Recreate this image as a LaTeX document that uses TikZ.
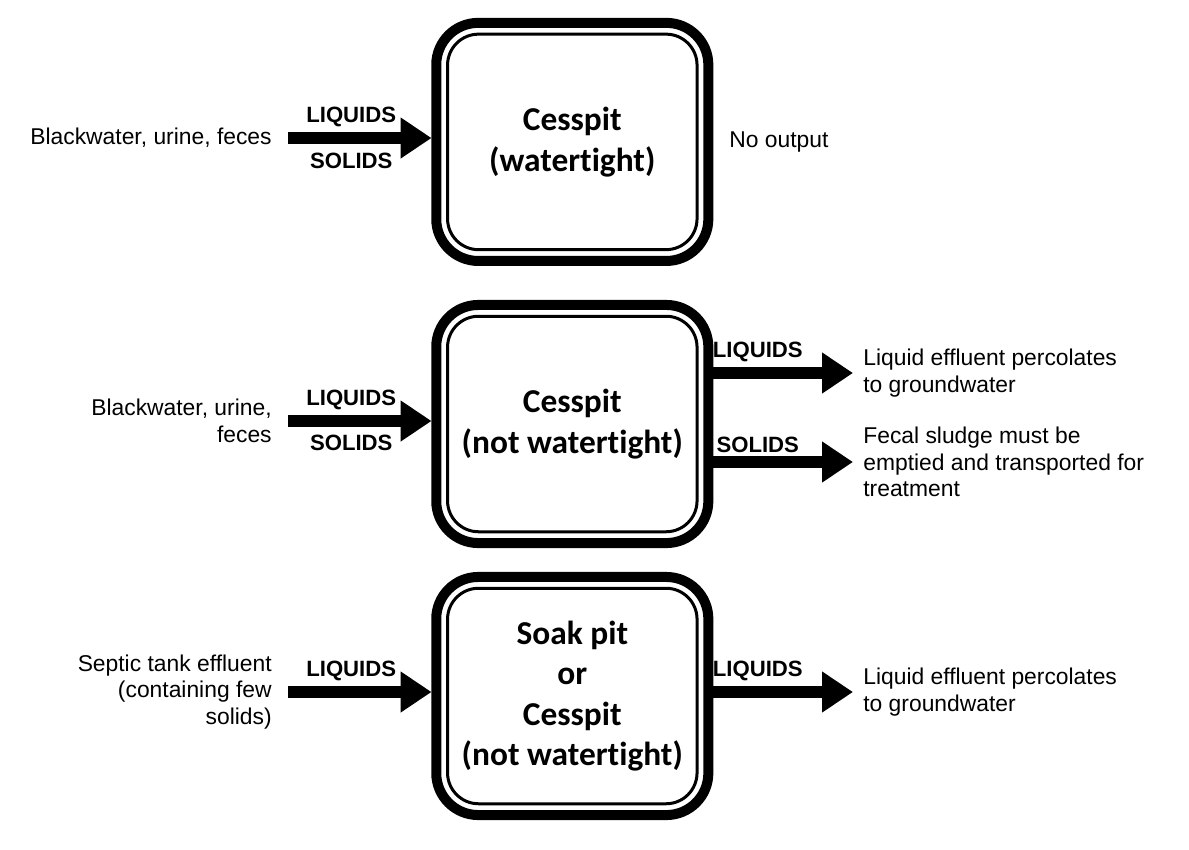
\documentclass[tikz,border=0pt]{standalone}
\usepackage{fontspec}
\setmainfont{Liberation Sans}
\newfontfamily\pitfont[Ligatures=NoCommon]{Carlito}
\usetikzlibrary{arrows.meta}

\begin{document}
\begin{tikzpicture}[x=0.2mm,y=-0.2mm,line cap=round,
  flow/.style={line width=2.4mm,line cap=butt,-{Triangle[length=6.2mm,width=7.8mm]}},
  pit/.style={draw,line width=0.6mm,rounded corners=6.2mm,minimum width=49.9mm,minimum height=43.1mm,
    inner sep=0pt,align=center,font=\pitfont\bfseries\fontsize{19}{23}\selectfont},
  rim/.style={line width=2mm,rounded corners=8.4mm},
  side/.style={inner sep=0pt,font=\fontsize{13}{15}\selectfont},
  tag/.style={inner sep=0pt,font=\bfseries\fontsize{12.6}{15}\selectfont}]
\useasboundingbox (0,0) rectangle (1189,849);

\node[pit] (pit1) at (572.3,141.9) {Cesspit\\(watertight)};
\node[pit] (pit2) at (572.3,424) {Cesspit\\(not watertight)};
\node[pit] (pit3) at (572.3,696) {Soak pit\\or\\Cesspit\\(not watertight)};
\foreach \p in {pit1,pit2,pit3}
  \draw[rim] ([shift={(-9.8,-9.8)}]\p.north west) rectangle ([shift={(9.8,9.8)}]\p.south east);

\node[side,anchor=east,align=right] (src1) at (272,138) {Blackwater, urine, feces};
\node[side,anchor=east,align=right] (src2) at (272,421) {Blackwater, urine,\\feces};
\node[side,anchor=east,align=right] (src3) at (272,692) {Septic tank effluent\\(containing few\\solids)};
\node[side,anchor=west] (none1) at (729,142) {No output};
\node[side,anchor=west,align=left] (perc2) at (863,373) {Liquid effluent percolates\\to groundwater};
\node[side,anchor=west,align=left] (sludge2) at (863,462) {Fecal sludge must be\\emptied and transported for\\treatment};
\node[side,anchor=west,align=left] (perc3) at (863,692) {Liquid effluent percolates\\to groundwater};

\draw[flow,shorten >=2.9mm] ([xshift=3.2mm]src1.east) -- (src1.east -| pit1.west)
  node[tag,pos=0.4,yshift=12pt] {LIQUIDS} node[tag,pos=0.4,yshift=-13pt] {SOLIDS};
\draw[flow,shorten >=2.9mm] ([xshift=3.2mm]src2.east) -- (src2.east -| pit2.west)
  node[tag,pos=0.4,yshift=12pt] {LIQUIDS} node[tag,pos=0.4,yshift=-12.5pt] {SOLIDS};
\draw[flow,shorten >=2.9mm] ([xshift=3.2mm]src3.east) -- (src3.east -| pit3.west)
  node[tag,pos=0.4,yshift=12pt] {LIQUIDS};
\draw[flow,shorten <=2.9mm,shorten >=2mm] (perc2.west -| pit2.east) -- (perc2.west)
  node[tag,pos=0.36,yshift=12pt] {LIQUIDS};
\draw[flow,shorten <=2.9mm,shorten >=2mm] (sludge2.west -| pit2.east) -- (sludge2.west)
  node[tag,pos=0.36,yshift=9.5pt] {SOLIDS};
\draw[flow,shorten <=2.9mm,shorten >=2mm] (perc3.west -| pit3.east) -- (perc3.west)
  node[tag,pos=0.36,yshift=12pt] {LIQUIDS};
\end{tikzpicture}
\end{document}
